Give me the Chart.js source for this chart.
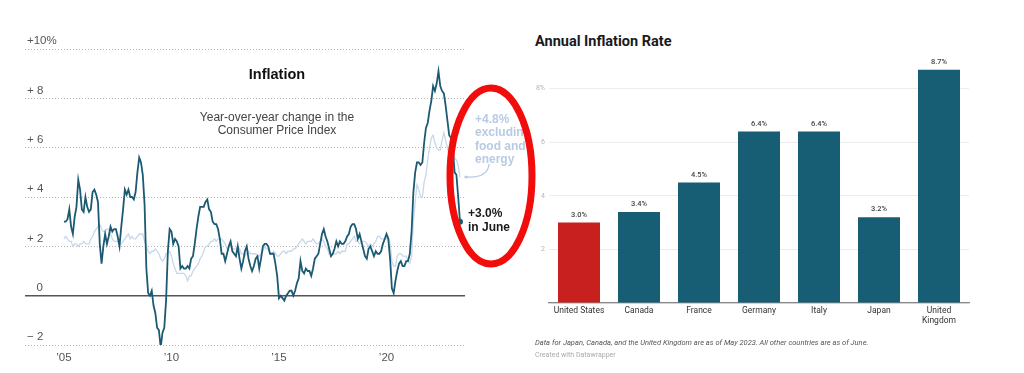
<!DOCTYPE html>
<html>
<head>
<meta charset="utf-8">
<script src="https://cdn.jsdelivr.net/npm/chart.js@4"></script>
<style>
  body { margin: 0; background: #fff; width: 1024px; height: 373px; overflow: hidden; position: relative; }
  .txt { position: absolute; white-space: nowrap; }
  #lineBox { position: absolute; left: 0; top: 0; width: 470px; height: 373px; }
  #barBox { position: absolute; left: 530px; top: 50px; width: 450px; height: 290px; }
  .nyt { font-family: "Liberation Sans", Arial, sans-serif; }
  .dw { font-family: Roboto, "Liberation Sans", sans-serif; }
  svg { position: absolute; left: 0; top: 0; pointer-events: none; }
</style>
</head>
<body>
<div id="lineBox"><canvas id="inflationLine"></canvas></div>
<div id="barBox"><canvas id="annualBars"></canvas></div>

<!-- left chart texts -->
<div class="txt nyt" style="left:277px;top:74px;transform:translate(-50%,-50%);font-weight:bold;font-size:14.5px;color:#111;">Inflation</div>
<div class="txt nyt" style="left:277px;top:124px;transform:translate(-50%,-50%);font-size:12px;line-height:13px;color:#444;text-align:center;">Year-over-year change in the<br>Consumer Price Index</div>
<div class="txt nyt" style="left:475px;top:113px;font-weight:bold;font-size:12px;line-height:13.3px;color:#b9cbe3;">+4.8%<br>excluding<br>food and<br>energy</div>
<div class="txt nyt" style="left:468px;top:206px;font-weight:bold;font-size:12px;line-height:14px;color:#1a1a1a;">+3.0%<br>in June</div>

<!-- right chart texts -->
<div class="txt dw" style="left:535px;top:33px;font-weight:bold;font-size:14.5px;line-height:17px;color:#1a1a1a;">Annual Inflation Rate</div>
<div class="txt dw" style="left:535px;top:338px;font-style:italic;font-size:7.5px;line-height:10px;color:#555;">Data for Japan, Canada, and the United Kingdom are as of May 2023. All other countries are as of June.</div>
<div class="txt dw" style="left:535px;top:350px;font-size:7px;line-height:10px;color:#aaa;">Created with Datawrapper</div>

<svg width="1024" height="373">
  <path d="M 489 164 Q 488 178 467 177" fill="none" stroke="#b9cbe3" stroke-width="1.3"/>
  <circle cx="466" cy="177" r="1.6" fill="#b9cbe3"/>
  <ellipse cx="491" cy="176" rx="41" ry="88" fill="none" stroke="#f20d0d" stroke-width="7"/>
</svg>

<script>
// ---------- data: consumer price index, year-over-year % (monthly, Jan 2005 - Jun 2023) ----------
const startYear = 2005;
const headline = [
  3.0, 3.0, 3.1, 3.5, 2.8, 2.5, 3.2, 3.6, 4.7, 4.3, 3.5, 3.4,
  4.0, 3.6, 3.4, 3.5, 4.2, 4.3, 4.1, 3.8, 2.1, 1.3, 2.0, 2.5,
  2.1, 2.4, 2.8, 2.6, 2.7, 2.7, 2.4, 2.0, 2.8, 3.5, 4.3, 4.1,
  4.3, 4.0, 4.0, 3.9, 4.2, 5.0, 5.6, 5.4, 4.9, 3.7, 1.1, 0.1,
  0.0, 0.2, -0.4, -0.7, -1.3, -1.4, -2.1, -1.5, -1.3, -0.2, 1.8, 2.7,
  2.6, 2.1, 2.3, 2.2, 2.0, 1.1, 1.2, 1.1, 1.1, 1.2, 1.1, 1.5,
  1.6, 2.1, 2.7, 3.2, 3.6, 3.6, 3.6, 3.8, 3.9, 3.5, 3.4, 3.0,
  2.9, 2.9, 2.7, 2.3, 1.7, 1.7, 1.4, 1.7, 2.0, 2.2, 1.8, 1.7,
  1.6, 2.0, 1.5, 1.1, 1.4, 1.8, 2.0, 1.5, 1.2, 1.0, 1.2, 1.5,
  1.6, 1.1, 1.5, 2.0, 2.1, 2.1, 2.0, 1.7, 1.7, 1.7, 1.3, 0.8,
  -0.1, 0.0, -0.1, -0.2, 0.0, 0.1, 0.2, 0.2, 0.0, 0.2, 0.5, 0.7,
  1.4, 1.0, 0.9, 1.1, 1.0, 1.0, 0.8, 1.1, 1.5, 1.6, 1.7, 2.1,
  2.5, 2.7, 2.4, 2.2, 1.9, 1.6, 1.7, 1.9, 2.2, 2.0, 2.2, 2.1,
  2.1, 2.2, 2.4, 2.5, 2.8, 2.9, 2.9, 2.7, 2.3, 2.5, 2.2, 1.9,
  1.6, 1.5, 1.9, 2.0, 1.8, 1.6, 1.8, 1.7, 1.7, 1.8, 2.1, 2.3,
  2.5, 2.3, 1.5, 0.3, 0.1, 0.6, 1.0, 1.3, 1.4, 1.2, 1.2, 1.4,
  1.4, 1.7, 2.6, 4.2, 5.0, 5.4, 5.4, 5.3, 5.4, 6.2, 6.8, 7.0,
  7.5, 7.9, 8.5, 8.3, 8.6, 9.1, 8.5, 8.3, 8.2, 7.7, 7.1, 6.5,
  6.4, 6.0, 5.0, 4.9, 4.0, 3.0
];
// excluding food and energy
const core = [
  2.3, 2.4, 2.3, 2.2, 2.2, 2.0, 2.1, 2.1, 2.0, 2.1, 2.1, 2.2,
  2.1, 2.1, 2.1, 2.3, 2.4, 2.6, 2.7, 2.8, 2.9, 2.7, 2.6, 2.6,
  2.7, 2.7, 2.5, 2.3, 2.2, 2.2, 2.2, 2.1, 2.1, 2.2, 2.3, 2.4,
  2.5, 2.3, 2.4, 2.3, 2.3, 2.4, 2.5, 2.5, 2.5, 2.2, 2.0, 1.8,
  1.7, 1.8, 1.8, 1.9, 1.8, 1.7, 1.5, 1.4, 1.5, 1.7, 1.7, 1.8,
  1.6, 1.3, 1.1, 0.9, 0.9, 0.9, 0.9, 0.9, 0.8, 0.6, 0.8, 0.8,
  1.0, 1.1, 1.2, 1.3, 1.5, 1.6, 1.8, 2.0, 2.0, 2.1, 2.2, 2.2,
  2.3, 2.2, 2.3, 2.3, 2.3, 2.2, 2.1, 1.9, 2.0, 2.0, 1.9, 1.9,
  1.9, 2.0, 1.9, 1.7, 1.7, 1.6, 1.7, 1.8, 1.7, 1.7, 1.7, 1.7,
  1.6, 1.6, 1.7, 1.8, 2.0, 1.9, 1.9, 1.7, 1.7, 1.8, 1.7, 1.6,
  1.6, 1.7, 1.8, 1.8, 1.7, 1.8, 1.8, 1.8, 1.9, 1.9, 2.0, 2.1,
  2.2, 2.3, 2.2, 2.1, 2.2, 2.2, 2.2, 2.3, 2.2, 2.1, 2.1, 2.2,
  2.3, 2.2, 2.0, 1.9, 1.7, 1.7, 1.7, 1.7, 1.7, 1.8, 1.7, 1.8,
  1.8, 1.8, 2.1, 2.1, 2.2, 2.3, 2.4, 2.2, 2.2, 2.1, 2.2, 2.2,
  2.2, 2.1, 2.0, 2.1, 2.0, 2.1, 2.2, 2.4, 2.4, 2.3, 2.3, 2.3,
  2.3, 2.4, 2.1, 1.4, 1.2, 1.2, 1.6, 1.7, 1.7, 1.6, 1.6, 1.6,
  1.4, 1.3, 1.6, 3.0, 3.8, 4.5, 4.3, 4.0, 4.0, 4.6, 4.9, 5.5,
  6.0, 6.4, 6.5, 6.2, 6.0, 5.9, 5.9, 6.3, 6.6, 6.3, 6.0, 5.7,
  5.6, 5.5, 5.6, 5.5, 5.3, 4.8
];
const yTicks = [-2, 0, 2, 4, 6, 8, 10];
const yTickLabels = ['\u2212 2', '\u2007 0', '+ 2', '+ 4', '+ 6', '+ 8', '+10%'];
const yearTicks = [2005, 2010, 2015, 2020];
const yearLabels = ['\u201905', '\u201910', '\u201915', '\u201920'];

// ---------- data: annual inflation rate by country (%) ----------
const countries = ['United States', 'Canada', 'France', 'Germany', 'Italy', 'Japan', ['United', 'Kingdom']];
const rates = [3.0, 3.4, 4.5, 6.4, 6.4, 3.2, 8.7];
const rateTicks = [0, 2, 4, 6, 8];
const rateTickLabels = ['', '2', '4', '6', '8%'];

// =============== Inflation line chart ===============
const xMin = 2003.19, xMax = 2023.65;
const toPoints = arr => arr.map((v, i) => ({ x: startYear + i / 12, y: v }));
const lastIdx = headline.length - 1;
const nytFont = "'Liberation Sans', Arial, sans-serif";
const navy = '#1c5a73';

new Chart(document.getElementById('inflationLine'), {
  type: 'line',
  data: {
    datasets: [
      {
        data: toPoints(headline),
        borderColor: navy,
        borderWidth: 1.8,
        pointRadius: ctx => ctx.dataIndex === lastIdx ? 3 : 0,
        pointBackgroundColor: navy,
        pointBorderWidth: 0,
        tension: 0
      },
      {
        data: toPoints(core),
        borderColor: '#c8d7ea',
        borderWidth: 1.3,
        pointRadius: 0,
        tension: 0
      },
      {
        // zero baseline
        data: [{ x: xMin, y: 0 }, { x: xMax, y: 0 }],
        borderColor: '#555',
        borderWidth: 1.5,
        pointRadius: 0
      }
    ]
  },
  options: {
    responsive: true,
    maintainAspectRatio: false,
    animation: false,
    layout: { padding: { left: 25, right: 5, top: 49, bottom: 0 } },
    plugins: { legend: { display: false }, tooltip: { enabled: false } },
    scales: {
      x: {
        type: 'linear',
        min: xMin,
        max: xMax,
        afterBuildTicks: ax => { ax.ticks = yearTicks.map(v => ({ value: v })); },
        afterFit: ax => { ax.height = 28; },
        grid: { display: false, drawTicks: false },
        border: { display: false },
        ticks: {
          autoSkip: false,
          maxRotation: 0,
          padding: 6,
          color: '#555',
          font: { family: nytFont, size: 11.5 },
          callback: v => yearLabels[yearTicks.indexOf(v)]
        }
      },
      y: {
        min: -2,
        max: 10,
        afterBuildTicks: ax => { ax.ticks = yTicks.map(v => ({ value: v })); },
        afterFit: ax => { ax.width = 0; },
        grid: { color: '#b5b5b5', lineWidth: 1, drawTicks: false },
        border: { display: false, dash: [1, 2] },
        ticks: {
          mirror: true,
          padding: 2,
          labelOffset: -8,
          color: '#555',
          font: { family: nytFont, size: 11.5 },
          callback: v => yTickLabels[yTicks.indexOf(v)]
        }
      }
    }
  }
});

// =============== Annual inflation bar chart ===============
const dwFont = "Roboto, 'Liberation Sans', sans-serif";
const teal = '#175e75';
const red = '#c8201e';
const highlight = 0; // United States

const valueLabels = {
  id: 'valueLabels',
  afterDatasetsDraw(chart) {
    const ctx = chart.ctx;
    const meta = chart.getDatasetMeta(0);
    ctx.save();
    ctx.font = '500 7.5px ' + dwFont;
    ctx.fillStyle = '#444';
    ctx.textAlign = 'center';
    ctx.textBaseline = 'bottom';
    meta.data.forEach((bar, i) => {
      ctx.fillText(rates[i].toFixed(1) + '%', bar.x, bar.y - 4);
    });
    ctx.restore();
  }
};

new Chart(document.getElementById('annualBars'), {
  type: 'bar',
  data: {
    labels: countries,
    datasets: [{
      data: rates,
      backgroundColor: rates.map((v, i) => i === highlight ? red : teal),
      borderWidth: 0,
      barPercentage: 0.7,
      categoryPercentage: 1.0
    }]
  },
  options: {
    responsive: true,
    maintainAspectRatio: false,
    animation: false,
    layout: { padding: { left: 0, right: 11, top: 11.8, bottom: 0 } },
    plugins: { legend: { display: false }, tooltip: { enabled: false } },
    scales: {
      x: {
        afterFit: ax => { ax.height = 37; },
        grid: { display: false, drawTicks: false },
        border: { display: true, color: '#888', width: 1.2 },
        ticks: {
          autoSkip: false,
          maxRotation: 0,
          padding: 3,
          color: '#333',
          font: { family: dwFont, size: 8.5, lineHeight: 1.15 }
        }
      },
      y: {
        min: 0,
        max: 9,
        afterBuildTicks: ax => { ax.ticks = rateTicks.map(v => ({ value: v })); },
        afterFit: ax => { ax.width = 19; },
        grid: { color: '#ececec', lineWidth: 1, drawTicks: false },
        border: { display: false },
        ticks: {
          padding: 4,
          color: '#b5b5b5',
          font: { family: dwFont, size: 7 },
          callback: v => rateTickLabels[rateTicks.indexOf(v)]
        }
      }
    }
  },
  plugins: [valueLabels]
});
</script>
</body>
</html>
